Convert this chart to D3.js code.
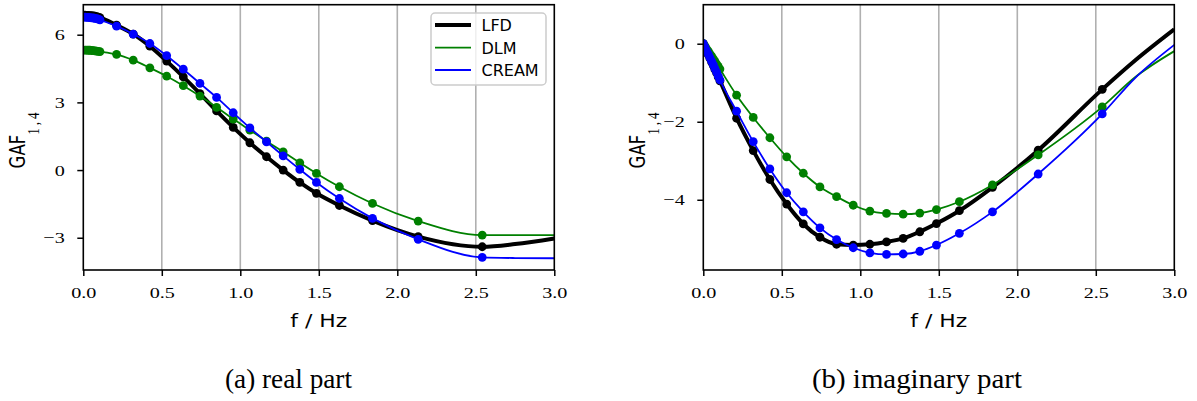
<!DOCTYPE html>
<html>
<head>
<meta charset="utf-8">
<script src="https://cdn.jsdelivr.net/npm/d3@7"></script>
<style>
  body { margin: 0; background: #fff; }
  svg { display: block; }
</style>
</head>
<body>
<svg id="chart" width="1197" height="401"></svg>
<script>
// frequencies (Hz) where markers sit
const freqs = [0, 0.011, 0.021, 0.032, 0.042, 0.053, 0.064, 0.074, 0.085, 0.095, 0.106,
  0.212, 0.318, 0.424, 0.531, 0.637, 0.743, 0.849, 0.955, 1.061, 1.167, 1.273, 1.379,
  1.485, 1.631, 1.842, 2.133, 2.541];
// line continues past last marker
const tailFreqs = [2.75, 3.0];

// real part
const realLFD = [6.87, 6.87, 6.86, 6.86, 6.85, 6.84, 6.83, 6.82, 6.80, 6.78, 6.76,
  6.42, 6.03, 5.49, 4.83, 4.13, 3.39, 2.62, 1.89, 1.21, 0.59, 0.0, -0.55,
  -1.03, -1.57, -2.24, -2.95, -3.40];
const realLFDTail = [-3.28, -3.03];
const realDLM = [5.32, 5.32, 5.32, 5.31, 5.31, 5.30, 5.29, 5.28, 5.27, 5.26, 5.25,
  5.13, 4.87, 4.53, 4.16, 3.74, 3.28, 2.78, 2.26, 1.77, 1.28, 0.81, 0.32,
  -0.15, -0.74, -1.48, -2.26, -2.88];
const realDLMTail = [-2.88, -2.88];
const realCREAM = [6.78, 6.78, 6.77, 6.77, 6.76, 6.75, 6.74, 6.72, 6.71, 6.69, 6.66,
  6.38, 6.03, 5.61, 5.07, 4.47, 3.84, 3.22, 2.54, 1.87, 1.25, 0.63, 0.03,
  -0.55, -1.26, -2.14, -3.07, -3.87];
const realCREAMTail = [-3.90, -3.91];

// imaginary part
const imagLFD = [0, -0.09, -0.18, -0.28, -0.37, -0.47, -0.56, -0.66, -0.75, -0.85, -0.95,
  -1.91, -2.74, -3.48, -4.11, -4.62, -4.96, -5.14, -5.16, -5.14, -5.08, -4.99, -4.82,
  -4.61, -4.28, -3.68, -2.73, -1.17];
const imagLFDTail = [-0.43, 0.37];
const imagDLM = [0, -0.06, -0.13, -0.19, -0.26, -0.32, -0.39, -0.45, -0.52, -0.58, -0.65,
  -1.32, -1.89, -2.41, -2.90, -3.32, -3.67, -3.92, -4.14, -4.29, -4.35, -4.37, -4.34,
  -4.25, -4.05, -3.62, -2.85, -1.62];
const imagDLMTail = [-0.86, -0.19];
const imagCREAM = [0, -0.09, -0.18, -0.27, -0.36, -0.45, -0.54, -0.64, -0.73, -0.83, -0.93,
  -1.73, -2.51, -3.21, -3.82, -4.31, -4.72, -5.02, -5.23, -5.36, -5.40, -5.39, -5.32,
  -5.16, -4.86, -4.31, -3.34, -1.80];
const imagCREAMTail = [-0.88, -0.03];

const seriesNames = ['LFD', 'DLM', 'CREAM'];
const seriesColors = ['#000000', '#008000', '#0000ff'];
const seriesWidths = [4, 1.8, 1.8];
const xTicks = [0, 0.5, 1.0, 1.5, 2.0, 2.5, 3.0];
const gridTicks = [0.5, 1.0, 1.5, 2.0, 2.5];

const svg = d3.select('#chart');
const plotW = 471, plotTop = 4.7, plotH = 265.3;
const serif = "'Liberation Serif', 'Times New Roman', serif";
const sans = "'DejaVu Sans', sans-serif";

function drawPanel(opts) {
    const g = svg.append('g').attr('transform', `translate(${opts.left},${plotTop})`);
    const x = d3.scaleLinear().domain([0, 3]).range([0, plotW]);
    const y = d3.scaleLinear().domain(opts.yDomain).range([plotH, 0]);

    const clipId = 'clip' + opts.id;
    g.append('clipPath').attr('id', clipId)
        .append('rect').attr('width', plotW).attr('height', plotH);

    // vertical grid
    g.append('g').selectAll('line').data(gridTicks).join('line')
        .attr('x1', d => x(d)).attr('x2', d => x(d))
        .attr('y1', 0).attr('y2', plotH)
        .attr('stroke', '#b0b0b0').attr('stroke-width', 1.6);

    const line = d3.line()
        .x(d => x(d[0])).y(d => y(d[1]))
        .curve(d3.curveMonotoneX);

    const plot = g.append('g').attr('clip-path', `url(#${clipId})`);
    opts.series.forEach((s, i) => {
        const pts = freqs.map((f, j) => [f, s.values[j]]);
        const all = pts.concat(tailFreqs.map((f, j) => [f, s.tail[j]]));
        plot.append('path')
            .attr('d', line(all))
            .attr('fill', 'none')
            .attr('stroke', seriesColors[i])
            .attr('stroke-width', seriesWidths[i])
            .attr('stroke-linejoin', 'round');
        plot.append('g').selectAll('circle').data(pts).join('circle')
            .attr('cx', d => x(d[0])).attr('cy', d => y(d[1]))
            .attr('r', 4.4)
            .attr('fill', seriesColors[i]);
    });

    // axes
    const xAxis = g.append('g').attr('transform', `translate(0,${plotH})`)
        .call(d3.axisBottom(x).tickValues(xTicks).tickFormat(d3.format('.1f')).tickSize(6));
    xAxis.select('.domain').remove();
    xAxis.selectAll('line').attr('stroke', '#000').attr('stroke-width', 1.5);
    xAxis.selectAll('text')
        .attr('y', 0).attr('dy', 0)
        .attr('transform', 'translate(0,28) scale(1.3,1)')
        .attr('font-family', serif).attr('font-size', 15.5).attr('fill', '#000');

    const yAxis = g.append('g')
        .call(d3.axisLeft(y).tickValues(opts.yTicks).tickFormat(d3.format('d')).tickSize(6));
    yAxis.select('.domain').remove();
    yAxis.selectAll('line').attr('stroke', '#000').attr('stroke-width', 1.5);
    yAxis.selectAll('text')
        .attr('x', 0).attr('dy', '0.32em')
        .attr('transform', 'translate(-18.5,0) scale(1.3,1)')
        .attr('font-family', serif).attr('font-size', 15.5).attr('fill', '#000');

    // frame
    g.append('rect').attr('width', plotW).attr('height', plotH)
        .attr('fill', 'none').attr('stroke', '#000').attr('stroke-width', 1.6);

    // axis labels
    svg.append('text')
        .attr('transform', `translate(${opts.left + plotW / 2},327) scale(1.25,1)`)
        .attr('text-anchor', 'middle')
        .attr('font-family', sans).attr('font-size', 17.5)
        .text('f / Hz');

    const yl = svg.append('text')
        .attr('transform', `translate(${opts.left - 58.3},139) rotate(-90) scale(1,1.25)`)
        .attr('text-anchor', 'middle');
    yl.append('tspan').attr('font-family', sans).attr('font-size', 16.5).text('GAF');
    yl.append('tspan').attr('font-family', serif).attr('font-size', 13)
        .attr('dy', 11.2).attr('letter-spacing', 3).text('1,4');

    // caption
    svg.append('text')
        .attr('x', opts.captionX).attr('y', 388)
        .attr('font-family', serif).attr('font-size', 28)
        .attr('textLength', opts.captionLen).attr('lengthAdjust', 'spacingAndGlyphs')
        .text(opts.caption);

    if (opts.legend) {
        const lg = svg.append('g');
        lg.append('rect')
            .attr('x', 431).attr('y', 13).attr('width', 115).attr('height', 72)
            .attr('rx', 4).attr('fill', '#fff').attr('fill-opacity', 0.8)
            .attr('stroke', '#cccccc').attr('stroke-width', 1.5);
        const rows = [25, 47.7, 70];
        seriesNames.forEach((name, i) => {
            lg.append('line')
                .attr('x1', 435).attr('x2', 471).attr('y1', rows[i]).attr('y2', rows[i])
                .attr('stroke', seriesColors[i]).attr('stroke-width', seriesWidths[i]);
            lg.append('text')
                .attr('x', 481.5).attr('y', rows[i] + 6)
                .attr('font-family', sans).attr('font-size', 16)
                .text(name);
        });
    }
}

drawPanel({
    id: 'a', left: 83.3, yDomain: [-4.43, 7.33], yTicks: [-3, 0, 3, 6],
    series: [
        { values: realLFD, tail: realLFDTail },
        { values: realDLM, tail: realDLMTail },
        { values: realCREAM, tail: realCREAMTail }
    ],
    legend: true, caption: '(a) real part', captionX: 225, captionLen: 127
});

drawPanel({
    id: 'b', left: 703.3, yDomain: [-5.8, 1.0], yTicks: [-4, -2, 0],
    series: [
        { values: imagLFD, tail: imagLFDTail },
        { values: imagDLM, tail: imagDLMTail },
        { values: imagCREAM, tail: imagCREAMTail }
    ],
    legend: false, caption: '(b) imaginary part', captionX: 812, captionLen: 210
});
</script>
</body>
</html>
